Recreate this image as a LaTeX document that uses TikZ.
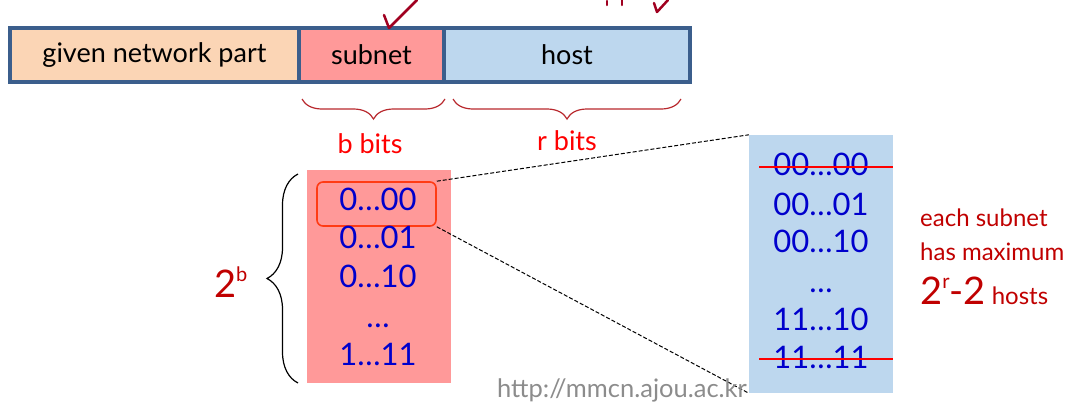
\documentclass[tikz,border=0pt]{standalone}
\usepackage{fontspec}
\setmainfont{Lato}
\usetikzlibrary{decorations.pathreplacing}
\definecolor{barborder}{HTML}{3B5E8C}
\definecolor{peach}{HTML}{FBD5B5}
\definecolor{pinkfill}{HTML}{FF9999}
\definecolor{bluefill}{HTML}{BDD7EE}
\definecolor{digitblue}{HTML}{0000CC}
\definecolor{darkred}{HTML}{C00000}
\definecolor{bracered}{HTML}{B8282D}
\definecolor{selred}{HTML}{FF3B14}
\definecolor{urlgray}{HTML}{8C8C8C}
\definecolor{inkred}{HTML}{A00020}
\newcommand{\supr}[1]{\raisebox{16pt}{\fontsize{20}{20}\selectfont #1}}
\tikzset{
  seg/.style={draw=barborder, line width=4pt, minimum height=54pt, inner sep=0pt,
    font=\fontsize{27}{27}\selectfont, text=black},
  colbox/.style={inner sep=0pt, draw=none},
  digit/.style={anchor=base, text=digitblue, font=\fontsize{31}{31}\selectfont, inner sep=0pt},
  lbl/.style={anchor=base, text=red, font=\fontsize{27}{27}\selectfont, inner sep=0pt},
  note/.style={anchor=base west, text=darkred, font=\fontsize{24}{24}\selectfont, inner sep=0pt},
  hbrace/.style={draw=bracered, line width=1.2pt, decorate, decoration={brace, mirror, amplitude=20pt}},
  vbrace/.style={draw=black, line width=1.2pt, decorate, decoration={brace, amplitude=31pt}},
  strike/.style={draw=red, line width=2pt},
  zoomline/.style={draw=black, dash pattern=on 4pt off 2pt, line width=1pt},
  ink/.style={draw=inkred, line width=2.5pt, line cap=round, line join=round}
}
\begin{document}
\begin{tikzpicture}[x=1pt,y=-1pt]
\useasboundingbox (0,0) rectangle (1082,410);

% top bar
\node[seg, fill=peach, minimum width=289pt] (gnp) at (154.5,55) {given network part};
\node[seg, fill=pinkfill, minimum width=145pt] (sub) at (371.5,55) {subnet};
\node[seg, fill=bluefill, minimum width=246pt] (host) at (567,55) {host};

% handwritten marks
\draw[ink] (384,15) -- (389,28) -- (417,0);
\draw[ink] (607,1) -- (607,5);
\draw[ink] (622,0) -- (622,5);
\draw[ink] (654,3) -- (657,12) -- (668,0);

% braces
\draw[hbrace] (302,99) -- (445,99);
\draw[hbrace] (453,99) -- (681,99);
\node[lbl] (bbits) at (370,153) {b bits};
\node[lbl] (rbits) at (567,150) {r bits};

% pink column
\node[colbox, fill=pinkfill, minimum width=144pt, minimum height=213pt] (pbox) at (379,276.5) {};
\node[draw=selred, line width=1.6pt, rounded corners=6pt, minimum width=119pt, minimum height=44pt] (sel) at (376.5,204) {};
\node[digit] (s1) at (378,210) {0…00};
\node[digit] (s2) at (378,248) {0…01};
\node[digit] (s3) at (378,287) {0…10};
\node[digit] (s4) at (378,327) {…};
\node[digit] (s5) at (378,365) {1…11};

% left brace and 2^b
\draw[vbrace] (298,383) -- (298,174);
\node[anchor=base west, text=darkred, font=\fontsize{38}{38}\selectfont, inner sep=0pt] (twob) at (214,297) {2\supr{b}};

% blue column
\node[colbox, fill=bluefill, minimum width=144pt, minimum height=258pt] (hbox) at (821,264) {};
\node[digit] (h1) at (821,175) {00…00};
\node[digit] (h2) at (821,215) {00…01};
\node[digit] (h3) at (821,252) {00…10};
\node[digit] (h4) at (821,292) {…};
\node[digit] (h5) at (821,330) {11…10};
\node[digit] (h6) at (821,368) {11…11};
\draw[strike] (759,167) -- (hbox.east |- 0,167);
\draw[strike] (759,359) -- (hbox.east |- 0,359);

% zoom lines
\draw[zoomline] (sel.north east) -- (hbox.north west);
\draw[zoomline] (sel.south east) -- (hbox.south west);

% note
\node[note] (n1) at (920,226) {each subnet};
\node[note] (n2) at (920,260) {has maximum};
\node[note] (n3) at (920,304) {{\fontsize{38}{38}\selectfont 2\supr{r}-2} hosts};

% url
\node[anchor=base, text=urlgray, font=\fontsize{25.5}{25.5}\selectfont, inner sep=0pt] (url) at (622,397) {http://mmcn.ajou.ac.kr};
\end{tikzpicture}
\end{document}
